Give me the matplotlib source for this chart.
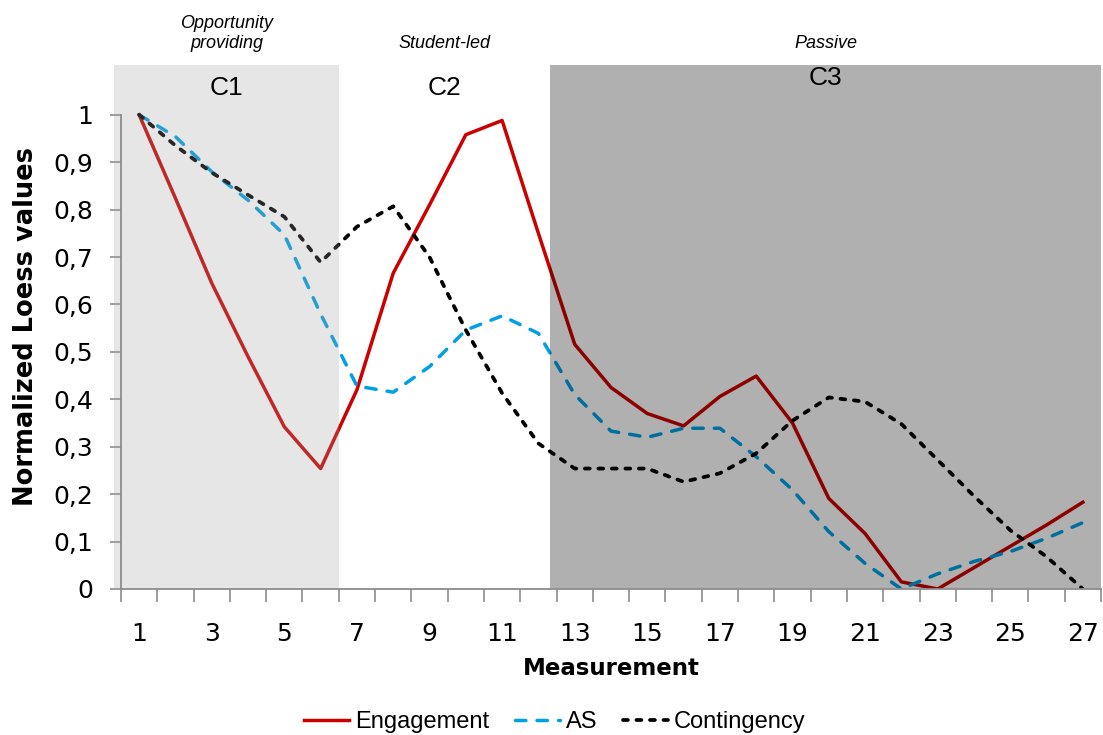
import matplotlib.pyplot as plt
from matplotlib.transforms import blended_transform_factory

measurement = list(range(1, 28))

engagement = [1.0, 0.824, 0.645, 0.49, 0.342, 0.254, 0.42, 0.666, 0.81, 0.958,
              0.988, 0.75, 0.516, 0.425, 0.37, 0.344, 0.406, 0.449, 0.35, 0.191,
              0.117, 0.015, 0.0, 0.045, 0.09, 0.135, 0.183]
as_values = [1.0, 0.954, 0.88, 0.82, 0.747, 0.58, 0.428, 0.415, 0.469, 0.546,
             0.576, 0.539, 0.41, 0.333, 0.32, 0.339, 0.339, 0.279, 0.209, 0.121,
             0.054, 0.0, 0.032, 0.058, 0.079, 0.107, 0.14]
contingency = [1.0, 0.935, 0.878, 0.831, 0.785, 0.689, 0.764, 0.807, 0.70, 0.546,
               0.413, 0.307, 0.254, 0.254, 0.254, 0.226, 0.244, 0.286, 0.355, 0.404,
               0.395, 0.348, 0.272, 0.196, 0.124, 0.068, 0.0]

phase_names = ['C1', 'C2', 'C3']
phase_styles = ['Opportunity\nproviding', 'Student-led', 'Passive']
phase_bounds = [(0.32, 6.5), (6.5, 12.33), (12.33, 27.5)]

y_ticks = [0, 0.1, 0.2, 0.3, 0.4, 0.5, 0.6, 0.7, 0.8, 0.9, 1]
x_ticks = list(range(1, 28, 2))

RED = '#cc0000'
BLUE = '#00a0e6'
AXIS_GRAY = '#8c8c8c'

fig = plt.figure(figsize=(11.03, 7.35), dpi=100)
ax = fig.add_axes([121 / 1103, 146 / 735, 980 / 1103, 524 / 735])

# lines
ax.plot(measurement, engagement, color=RED, lw=2.5, label='Engagement', zorder=2)
ax.plot(measurement, as_values, color=BLUE, lw=2.5, dashes=(3.0, 3.2),
        dash_capstyle='round', label='AS', zorder=2)
ax.plot(measurement, contingency, color='black', lw=2.7, dashes=(1.3, 2.3),
        dash_capstyle='round', label='Contingency', zorder=2)

# phase shading, drawn over the lines like the original
ax.axvspan(*phase_bounds[0], ymin=0, ymax=1, color=(157 / 255,) * 3, alpha=0.255,
           lw=0, zorder=3, clip_on=False)
ax.axvspan(*phase_bounds[2], ymin=0, ymax=1, color='black', alpha=0.31,
           lw=0, zorder=3, clip_on=False)

ax.set_xlim(0.5, 27.5)
ax.set_ylim(0, 1.105)

trans = blended_transform_factory(ax.transData, ax.transAxes)
name_y = [0.956, 0.956, 0.975]
for (lo, hi), name, style, ny in zip(phase_bounds, phase_names, phase_styles, name_y):
    mid = (lo + hi) / 2
    ax.text(mid, ny, name, transform=trans, ha='center', va='center',
            fontsize=19, family='Liberation Sans', zorder=4)
    ax.text(mid, 1.024, style, transform=trans, ha='center', va='bottom',
            fontsize=13, style='italic', family='Liberation Sans',
            linespacing=1.25)

# axes styling
for side in ['top', 'right']:
    ax.spines[side].set_visible(False)
for side in ['left', 'bottom']:
    ax.spines[side].set_color(AXIS_GRAY)
    ax.spines[side].set_linewidth(1.3)
    ax.spines[side].set_zorder(5)
ax.spines['left'].set_bounds(0, 1)

ax.set_yticks(y_ticks)
ax.set_yticklabels([('%g' % v).replace('.', ',') for v in y_ticks])
ax.tick_params(axis='y', direction='out', length=8, width=1.2, color=AXIS_GRAY,
               labelsize=18, pad=12)

ax.set_xticks(x_ticks)
ax.set_xticks([v + 0.5 for v in range(0, 28)], minor=True)
ax.tick_params(axis='x', which='major', length=0, labelsize=18, pad=24)
ax.tick_params(axis='x', which='minor', direction='out', length=9, width=1.2,
               color=AXIS_GRAY)

ax.set_xlabel('Measurement', fontsize=16.5, fontweight='bold')
ax.xaxis.set_label_coords(0.5, -0.13)
ax.set_ylabel('Normalized Loess values', fontsize=18.5, fontweight='bold')
ax.yaxis.set_label_coords(-0.084, 0.5)

fig.legend(loc='center', bbox_to_anchor=(555 / 1103, 1 - 722 / 735), ncol=3,
           frameon=False, prop={'family': 'Liberation Sans', 'size': 17},
           handlelength=1.9, handletextpad=0.25, columnspacing=1.1)

fig.savefig('out.png', dpi=100)
